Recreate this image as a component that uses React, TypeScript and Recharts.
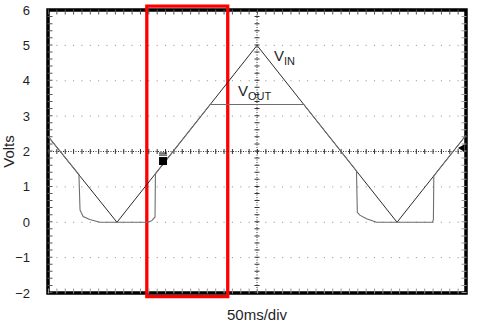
import {
  LineChart,
  Line,
  XAxis,
  YAxis,
  CartesianGrid,
  ReferenceArea,
  ReferenceLine,
  ReferenceDot,
} from 'recharts';

// time in ms (50ms/div, 10 div), volts
const vinTime = [0, 82.5, 250, 417.5, 500];
const vinVolts = [2.43, 0, 5, 0, 2.46];

const voutTime = [0, 37, 38.3, 42, 50, 62, 119, 124, 128, 128.5, 194, 306, 369, 370, 373, 381, 393, 460, 461, 461.5, 500];
const voutVolts = [2.43, 1.35, 0.35, 0.16, 0.08, 0, 0, 0.04, 0.15, 1.37, 3.33, 3.33, 1.45, 0.28, 0.2, 0.1, 0, 0, 0.08, 1.31, 2.46];

const xTicks = [0, 50, 100, 150, 200, 250, 300, 350, 400, 450, 500];
const yTicks = [-2, -1, 0, 1, 2, 3, 4, 5, 6];

const vin = vinTime.map((t, i) => ({ t, v: vinVolts[i] }));
const vout = voutTime.map((t, i) => ({ t, v: voutVolts[i] }));

const FONT = '"Liberation Sans", Arial, sans-serif';
const INK = '#1e1e28';

const fmtY = (v: number) => (v < 0 ? '\u2212' + Math.abs(v) : String(v));

const TraceLabel = ({ cx, cy, main, sub }: any) => (
  <text x={cx} y={cy} fontFamily={FONT} fontSize={15} fill={INK}>
    {main}
    <tspan fontSize={11} dy={4}>{sub}</tspan>
  </text>
);

const TrigMarker = ({ cx, cy }: any) => (
  <g>
    <rect x={cx - 4} y={cy - 4} width={8} height={8} fill="#000" />
    <line x1={cx - 4} x2={cx + 4} y1={cy - 6} y2={cy - 6} stroke="#000" strokeWidth={1} />
    <line x1={cx - 4} x2={cx + 4} y1={cy - 8} y2={cy - 8} stroke="#000" strokeWidth={1} />
  </g>
);

const LevelMarker = ({ cx, cy }: any) => (
  <path d={`M${cx - 8},${cy} L${cx - 2},${cy - 3.5} L${cx - 2},${cy + 3.5} Z`} fill="#000" />
);

const App = () => {
  return (
    <div style={{ position: 'absolute', left: 0, top: 0, background: '#fff' }}>
      <LineChart width={477} height={325} margin={{ top: 10, right: 11, bottom: 0, left: 0 }}>
        <CartesianGrid vertical={false} stroke="#8a8a8a" strokeDasharray="1 7.36" />
        <CartesianGrid horizontal={false} stroke="#8a8a8a" strokeDasharray="1 6.075" />
        <XAxis
          type="number"
          dataKey="t"
          domain={[0, 500]}
          ticks={xTicks}
          tick={false}
          tickLine={false}
          axisLine={false}
          height={32}
          label={{
            content: ({ viewBox }: any) => (
              <text
                x={viewBox.x + viewBox.width / 2}
                y={viewBox.y + 27}
                textAnchor="middle"
                fontFamily={FONT}
                fontSize={15}
                fill={INK}
              >
                50ms/div
              </text>
            ),
          }}
        />
        <YAxis
          type="number"
          domain={[-2, 6]}
          ticks={yTicks}
          width={48}
          tickLine={false}
          axisLine={false}
          tickMargin={12}
          tickFormatter={fmtY}
          tick={{ fontSize: 13, fill: INK, fontFamily: FONT }}
          label={{
            content: ({ viewBox }: any) => (
              <text
                x={14}
                y={viewBox.y + viewBox.height / 2}
                transform={`rotate(-90 14 ${viewBox.y + viewBox.height / 2})`}
                textAnchor="middle"
                fontFamily={FONT}
                fontSize={15}
                fill={INK}
              >
                Volts
              </text>
            ),
          }}
        />
        {/* centre crosshair with minor ticks */}
        <ReferenceLine y={2} stroke="#333" strokeDasharray="1 1.5" />
        <ReferenceLine y={2} stroke="#333" strokeWidth={5} strokeDasharray="1 7.36" />
        <ReferenceLine x={250} stroke="#333" strokeDasharray="1 1.5" />
        <ReferenceLine x={250} stroke="#333" strokeWidth={5} strokeDasharray="1 6.075" />
        {/* border minor ticks */}
        <ReferenceLine x={2.4} stroke="#555" strokeWidth={5} strokeDasharray="1 6.075" />
        <ReferenceLine x={497.6} stroke="#999" strokeWidth={5} strokeDasharray="1 6.075" />
        <ReferenceLine y={5.943} stroke="#555" strokeWidth={5} strokeDasharray="1 7.36" />
        <ReferenceLine y={-1.943} stroke="#999" strokeWidth={5} strokeDasharray="1 7.36" />
        <Line
          data={vin}
          dataKey="v"
          type="linear"
          stroke="#2a2a2a"
          strokeWidth={1}
          dot={false}
          isAnimationActive={false}
        />
        <Line
          data={vout}
          dataKey="v"
          type="linear"
          stroke="#6e6e6e"
          strokeWidth={1.1}
          dot={false}
          isAnimationActive={false}
        />
        <ReferenceArea x1={0} x2={500} y1={-2} y2={6} fill="none" stroke="#000" strokeWidth={3.5} ifOverflow="visible" />
        <ReferenceDot x={270.3} y={4.56} r={0} ifOverflow="visible" shape={(p: any) => <TraceLabel {...p} main="V" sub="IN" />} />
        <ReferenceDot x={227.2} y={3.57} r={0} ifOverflow="visible" shape={(p: any) => <TraceLabel {...p} main="V" sub="OUT" />} />
        <ReferenceDot x={137.6} y={1.73} r={4} ifOverflow="visible" shape={(p: any) => <TrigMarker {...p} />} />
        <ReferenceDot x={500} y={2.1} r={4} ifOverflow="visible" shape={(p: any) => <LevelMarker {...p} />} />
        <ReferenceArea x1={118.2} x2={215} y1={-2.1} y2={6.11} fill="none" stroke="#ff0000" strokeWidth={3.3} ifOverflow="visible" />
      </LineChart>
    </div>
  );
};

export default App;
